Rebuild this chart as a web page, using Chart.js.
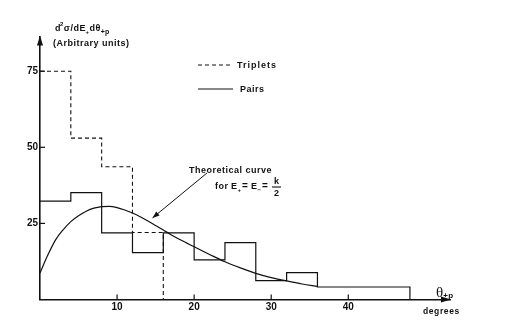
<!DOCTYPE html>
<html><head><meta charset="utf-8">
<script src="https://cdn.jsdelivr.net/npm/chart.js@4/dist/chart.umd.min.js"></script>
<style>html,body{margin:0;padding:0;background:#fff;}#wrap{position:relative;width:506px;height:322px;}</style>
</head><body><div id="wrap"><canvas id="c" width="506" height="322"></canvas></div>
<script>
// ---- data ----
const pairEdges = [0,4,8,12,16,20,24,28,32,36,48];
const pairValues = [32.3,35.1,21.9,15.4,21.9,13,18.7,6.2,8.8,4.1];
const tripletEdges = [0,4,8,12,16];
const tripletValues = [75,53,43.6,22];
const theoryAngles = [0,1,2,3,4,5,6,7,8,9,10,11,12,13,14,15,16,17,18,19,20,22,24,26,28,30,32,34,36];
const theoryValues = [8.7,14.5,19.5,22.9,25.6,27.5,29,30,30.5,30.6,30.2,29.4,28.4,27.2,25.8,24.3,22.8,21.3,19.9,18.6,17.3,14.8,12.4,10.4,8.6,7.2,6.1,5.1,4.3];
const xTickLabels = [10,20,30,40];
const yTickLabels = [25,50,75];

function histPoints(edges, values){
  const pts = values.map((v,i)=>({x:edges[i], y:v}));
  pts.push({x:edges[edges.length-1], y:0});
  return pts;
}
const INK = '#111';

const deco = {
  id:'deco',
  afterDraw(chart){
    const {ctx, chartArea:a, scales:{x,y}} = chart;
    ctx.save();
    ctx.strokeStyle = INK; ctx.fillStyle = INK; ctx.lineWidth = 1.2;
    const line=(x1,y1,x2,y2,dash)=>{ctx.beginPath();ctx.setLineDash(dash||[]);ctx.moveTo(x1,y1);ctx.lineTo(x2,y2);ctx.stroke();ctx.setLineDash([]);};
    const tri=(p1,p2,p3)=>{ctx.beginPath();ctx.moveTo(p1[0],p1[1]);ctx.lineTo(p2[0],p2[1]);ctx.lineTo(p3[0],p3[1]);ctx.closePath();ctx.fill();};
    // tick marks pointing inward
    y.ticks.forEach(t=>{const py=y.getPixelForValue(t.value); line(a.left,py,a.left+5,py);});
    x.ticks.forEach(t=>{const px=x.getPixelForValue(t.value); line(px,a.bottom,px,a.bottom-5);});
    // axis arrowheads
    tri([a.left,a.top-1],[a.left-3,a.top+9],[a.left+3,a.top+9]);
    tri([a.right+1,a.bottom],[a.right-9,a.bottom-3],[a.right-9,a.bottom+3]);

    const txt=(s,px,py,size,opts)=>{
      opts=opts||{};
      ctx.font=(opts.weight||'bold')+' '+size+'px '+(opts.family||'"Liberation Sans", Arial, sans-serif');
      ctx.letterSpacing=(opts.ls===undefined?0.5:opts.ls)+'px';
      ctx.textAlign=opts.align||'left'; ctx.textBaseline='alphabetic';
      ctx.fillText(s,px,py);
      const w=ctx.measureText(s).width;
      ctx.letterSpacing='0px';
      return px+w;
    };
    // y-axis title
    let cx = 55;
    cx = txt('d',cx,31,9);
    cx = txt('2',cx-1,26,6);
    cx = txt('σ',cx,31,9);
    cx = txt('/',cx,31,9);
    cx = txt('dE',cx,31,9);
    cx = txt('+',cx-0.5,33.5,6,{ls:0});
    cx = txt('dθ',cx+0.5,31,9);
    txt('+p',cx,34,7,{ls:0});
    txt('(Arbitrary units)',53,46,9);

    // legend
    ctx.lineWidth=1.1;
    line(198,65,231,65,[4,3]);
    txt('Triplets',237,68,9,{ls:1});
    line(198,89,233,89);
    txt('Pairs',240,92,9);

    // theoretical curve annotation
    txt('Theoretical curve',189,173,9);
    txt('for',215,189,9);
    txt('E',231,189,9);
    txt('+',237.5,191.5,6,{ls:0});
    txt('=',242,189,10,{ls:0});
    txt('E',251,189,9);
    txt('−',257.5,191.5,6,{ls:0});
    txt('=',262,189,10,{ls:0});
    txt('k',276.5,184,9,{align:'center',ls:0});
    ctx.lineWidth=1.1; line(272,187,281,187);
    txt('2',276.5,196,9,{align:'center',ls:0});
    // arrow pointing to curve
    const tipX = x.getPixelForValue(14.6), tipY = y.getPixelForValue(26.8);
    const sx=207, sy=173;
    ctx.lineWidth=1; line(sx,sy,tipX,tipY);
    const ang=Math.atan2(tipY-sy,tipX-sx), L=7, W=2.6;
    const bx=tipX-L*Math.cos(ang), by=tipY-L*Math.sin(ang);
    tri([tipX,tipY],[bx+W*Math.sin(ang),by-W*Math.cos(ang)],[bx-W*Math.sin(ang),by+W*Math.cos(ang)]);

    // x-axis title
    cx = txt('θ',436,297,15,{weight:'normal',family:'"Liberation Serif", serif',ls:0});
    txt('+p',cx,298,8,{ls:0.3});
    txt('degrees',423,314,8.5,{ls:0.6});
    ctx.restore();
  }
};

new Chart(document.getElementById('c'), {
  data:{
    datasets:[
      {type:'line', label:'Triplets', data:histPoints(tripletEdges,tripletValues), stepped:'before',
       borderColor:INK, borderWidth:1.1, borderDash:[4,3], pointRadius:0, fill:false},
      {type:'line', label:'Pairs', data:histPoints(pairEdges,pairValues), stepped:'before',
       borderColor:INK, borderWidth:1.2, pointRadius:0, fill:false},
      {type:'line', label:'Theoretical curve', data:theoryAngles.map((a,i)=>({x:a,y:theoryValues[i]})),
       borderColor:INK, borderWidth:1.2, pointRadius:0, cubicInterpolationMode:'monotone', fill:false}
    ]
  },
  options:{
    responsive:false, animation:false,
    layout:{padding:{top:36.5, right:56, left:0, bottom:0}},
    plugins:{legend:{display:false}, tooltip:{enabled:false}},
    scales:{
      x:{type:'linear', min:0, max:53.2,
         afterBuildTicks:s=>{s.ticks=xTickLabels.map(v=>({value:v}));},
         afterFit:s=>{s.height=22.5;},
         grid:{display:false, drawTicks:false},
         border:{display:true, color:INK, width:1.6},
         ticks:{color:INK, font:{family:'"Liberation Sans", Arial, sans-serif', size:10, weight:'bold'}, padding:2, maxRotation:0}},
      y:{type:'linear', min:0, max:86.4,
         afterBuildTicks:s=>{s.ticks=yTickLabels.map(v=>({value:v}));},
         afterFit:s=>{s.width=40;},
         grid:{display:false, drawTicks:false},
         border:{display:true, color:INK, width:1.6},
         ticks:{color:INK, font:{family:'"Liberation Sans", Arial, sans-serif', size:10, weight:'bold'}, padding:2}}
    }
  },
  plugins:[deco]
});
</script></body></html>
